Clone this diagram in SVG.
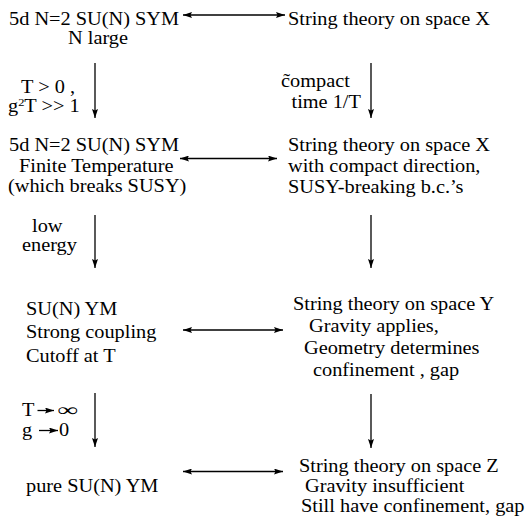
<svg xmlns="http://www.w3.org/2000/svg" width="532" height="517" viewBox="0 0 532 517">
<style>
text{font-family:"Liberation Serif","Times New Roman",serif;font-size:18px;fill:#000}
.c{stroke:#000;stroke-width:1.3;fill:none}
</style>
<defs>
<marker id="ah" viewBox="0 0 9 6" refX="9" refY="3" markerWidth="9" markerHeight="6" markerUnits="userSpaceOnUse" orient="auto-start-reverse">
<path d="M0,0 L9,3 L0,6 L1.5,3 z" fill="#000"/>
</marker>
</defs>
<rect width="532" height="517" fill="#fff"/>
<g id="connectors">
<line class="c" x1="183" y1="15" x2="285" y2="15" marker-start="url(#ah)" marker-end="url(#ah)"/>
<line class="c" x1="180" y1="158.5" x2="277" y2="158.5" marker-start="url(#ah)" marker-end="url(#ah)"/>
<line class="c" x1="183" y1="330" x2="283" y2="330" marker-start="url(#ah)" marker-end="url(#ah)"/>
<line class="c" x1="183" y1="471.5" x2="283" y2="471.5" marker-start="url(#ah)" marker-end="url(#ah)"/>
<line class="c" x1="95" y1="63" x2="95" y2="118" marker-end="url(#ah)"/>
<line class="c" x1="371" y1="63" x2="371" y2="118" marker-end="url(#ah)"/>
<line class="c" x1="95" y1="215" x2="95" y2="268" marker-end="url(#ah)"/>
<line class="c" x1="371" y1="215" x2="371" y2="268" marker-end="url(#ah)"/>
<line class="c" x1="95" y1="393" x2="95" y2="447" marker-end="url(#ah)"/>
<line class="c" x1="371" y1="394" x2="371" y2="448" marker-end="url(#ah)"/>
</g>
<g id="sym-n-large">
<text transform="translate(9 24.5) scale(1.13 1)">5d N=2 SU(N) SYM</text>
<text transform="translate(68 43.5) scale(1.13 1)">N large</text>
</g>
<g id="string-x">
<text transform="translate(288 25) scale(1.13 1)">String theory on space X</text>
</g>
<g id="label-t-positive">
<text transform="translate(21 92.5) scale(1.13 1)">T &gt; 0 ,</text>
<text transform="translate(8 111.5) scale(1.13 1)">g<tspan font-size="11" dy="-5.5">2</tspan><tspan dy="5.5">T &gt;&gt; 1</tspan></text>
</g>
<g id="label-compact">
<text transform="translate(281 87) scale(1.13 1)">c&#771;ompact</text>
<text transform="translate(291.5 107.5) scale(1.13 1)">time 1/T</text>
</g>
<g id="sym-finite-t">
<text transform="translate(9 150.5) scale(1.13 1)">5d N=2 SU(N) SYM</text>
<text transform="translate(19 171.5) scale(1.13 1)">Finite Temperature</text>
<text transform="translate(8 192) scale(1.13 1)">(which breaks SUSY)</text>
</g>
<g id="string-x-compact">
<text transform="translate(288 150.5) scale(1.13 1)">String theory on space X</text>
<text transform="translate(288 171.5) scale(1.13 1)">with compact direction,</text>
<text transform="translate(288 192.5) scale(1.13 1)">SUSY-breaking b.c.’s</text>
</g>
<g id="label-low-energy">
<text transform="translate(32 231.5) scale(1.13 1)">low</text>
<text transform="translate(22 250.5) scale(1.13 1)">energy</text>
</g>
<g id="su-n-ym">
<text transform="translate(26 314.5) scale(1.13 1)">SU(N) YM</text>
<text transform="translate(26 338) scale(1.13 1)">Strong coupling</text>
<text transform="translate(26 361.5) scale(1.13 1)">Cutoff at T</text>
</g>
<g id="string-y">
<text transform="translate(293 309.5) scale(1.13 1)">String theory on space Y</text>
<text transform="translate(309 331.5) scale(1.13 1)">Gravity applies,</text>
<text transform="translate(304 353.5) scale(1.13 1)">Geometry determines</text>
<text transform="translate(313 376) scale(1.13 1)">confinement , gap</text>
</g>
<g id="label-limit">
<text transform="translate(22 415.5) scale(1.13 1)">T</text>
<line class="c" x1="37.5" y1="410.5" x2="54" y2="410.5" marker-end="url(#ah)"/>
<text transform="translate(57 415.5) scale(1.6 1)">∞</text>
<text transform="translate(22 436) scale(1.13 1)">g</text>
<line class="c" x1="39" y1="430.5" x2="58" y2="430.5" marker-end="url(#ah)"/>
<text transform="translate(59 436) scale(1.13 1)">0</text>
</g>
<g id="pure-ym">
<text transform="translate(26 492) scale(1.13 1)">pure SU(N) YM</text>
</g>
<g id="string-z">
<text transform="translate(299 472) scale(1.13 1)">String theory on space Z</text>
<text transform="translate(305 492) scale(1.13 1)">Gravity insufficient</text>
<text transform="translate(301 512) scale(1.13 1)">Still have confinement, gap</text>
</g>
</svg>
